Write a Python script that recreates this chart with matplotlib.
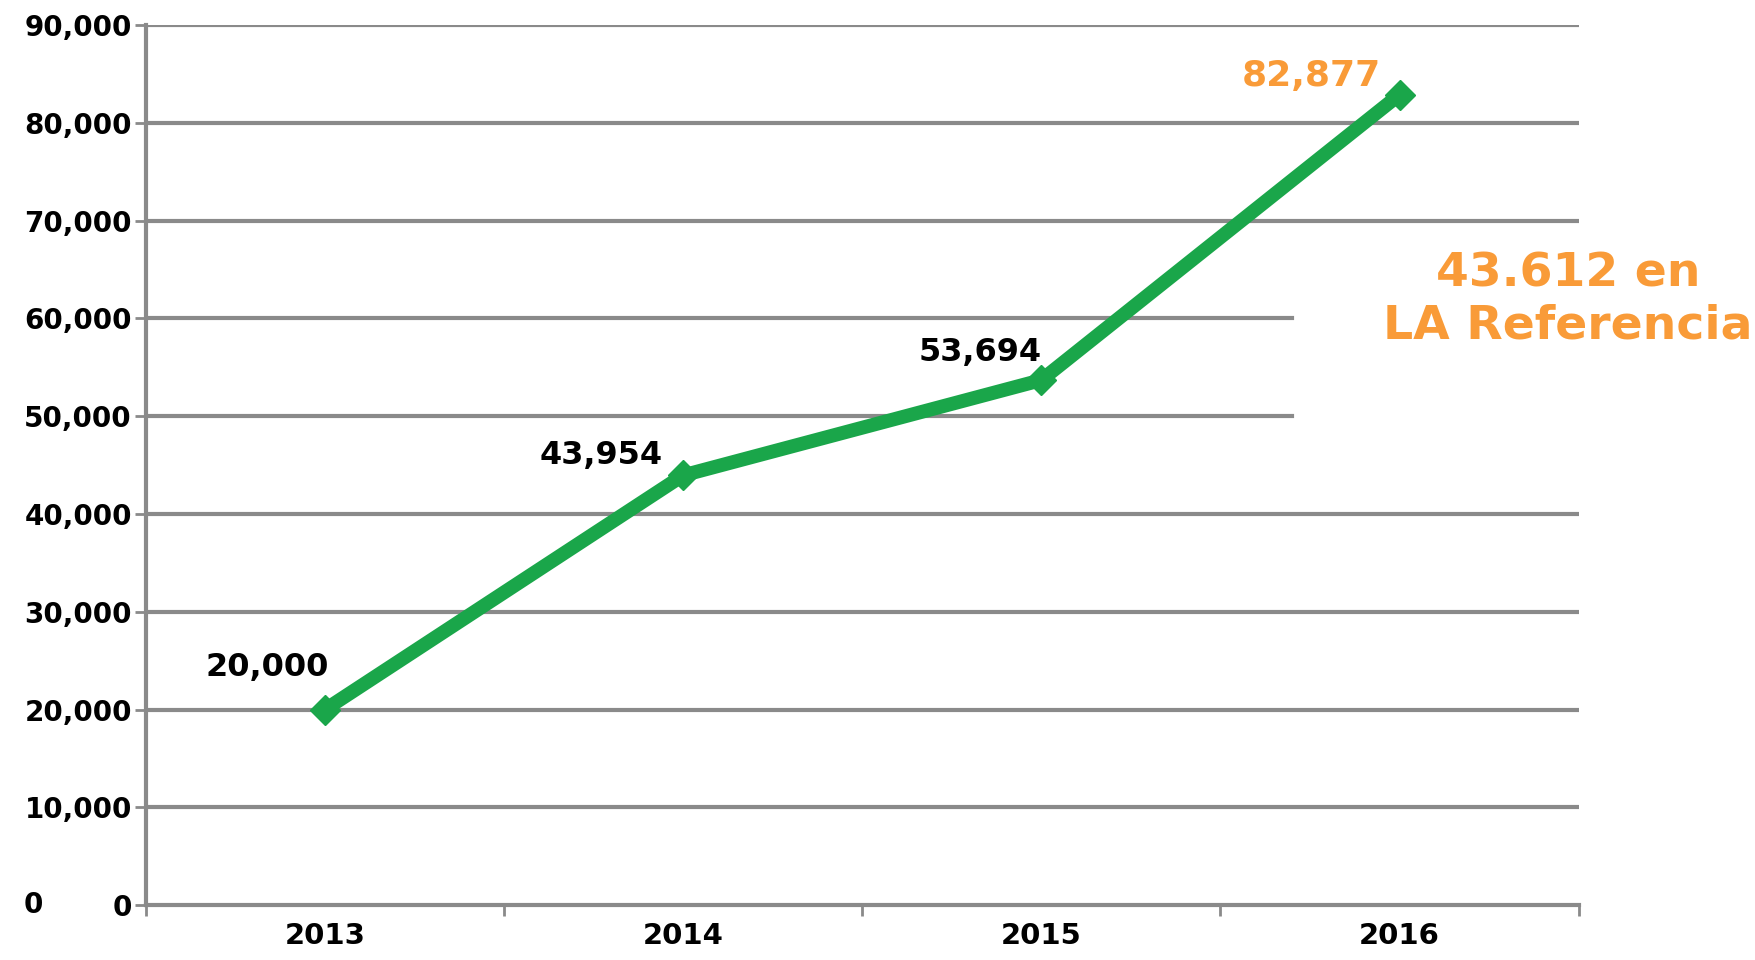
import numpy as np
import matplotlib.pyplot as plt

# datos
anios = ['2013', '2014', '2015', '2016']
registros = [20000, 43954, 53694, 82877]
etiquetas = ['20,000', '43,954', '53,694', '82,877']
yticks = [0, 10000, 20000, 30000, 40000, 50000, 60000, 70000, 80000, 90000]

verde = '#1aa64a'
naranja = '#f99b38'
gris = '#8a8a8a'

fig = plt.figure(figsize=(17.56, 9.6), dpi=100)
ax = fig.add_axes([0.083, 0.057, 0.816, 0.917])

x = np.arange(len(anios))
ax.set_xlim(-0.5, 3.5)
ax.set_ylim(0, 90000)

# lineas de grilla (las de 50k y 60k quedan cortadas por el cuadro de texto)
for v in yticks[1:]:
    xmax = 0.80 if v in (50000, 60000) else 1.0
    ax.axhline(v, xmin=0, xmax=xmax, color=gris, lw=3, zorder=1)

ax.plot(x, registros, color=verde, lw=10, marker='D', ms=15, zorder=3)

offs = [(-58, 42), (-82, 20), (-61, 28), (-88, 19)]
for i, (v, t) in enumerate(zip(registros, etiquetas)):
    c = naranja if i == 3 else 'black'
    fs = 26 if i == 3 else 23
    ax.annotate(t, (x[i], v), xytext=offs[i], textcoords='offset pixels',
                ha='center', va='center', fontsize=fs, fontweight='bold', color=c)

ax.set_yticks(yticks)
ax.set_yticklabels(['{:,}'.format(v) for v in yticks], fontsize=20, fontweight='bold')
ax.set_xticks(x)
ax.set_xticklabels(anios, fontsize=21, fontweight='bold')
ax.set_xticks(np.arange(-0.5, 4, 1), minor=True)
ax.tick_params(axis='x', which='major', length=0, pad=12)
ax.tick_params(axis='x', which='minor', length=8, width=2, color=gris)
ax.tick_params(axis='y', length=8, width=2, color=gris, pad=2)

for s in ['top', 'right']:
    ax.spines[s].set_visible(False)
ax.spines['left'].set_color(gris)
ax.spines['left'].set_linewidth(3)
ax.spines['bottom'].set_color(gris)
ax.spines['bottom'].set_linewidth(3)

# "0" repetido a la izquierda
fig.text(33 / 1756, 1 - 905 / 960, '0', ha='center', va='center',
         fontsize=20, fontweight='bold')

fig.text(1568 / 1756, 1 - 300 / 960, '43.612 en\nLA Referencia', ha='center', va='center',
         fontsize=34, fontweight='bold', color=naranja, linespacing=1.2)

plt.savefig('out.png', dpi=100)
